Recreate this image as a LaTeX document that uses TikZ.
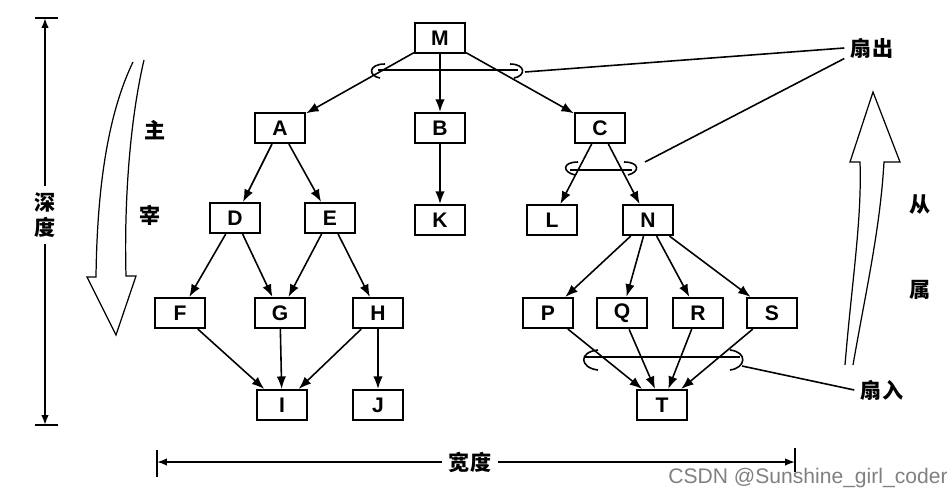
\documentclass[tikz,border=0pt]{standalone}
\usepackage{fontspec}
\setmainfont{Liberation Sans}
\newfontfamily\cjk{Noto Sans CJK SC}
\usetikzlibrary{arrows.meta}
\begin{document}
\begin{tikzpicture}[x=0.02cm, y=-0.02cm,
		line width = 0.9pt,
		module/.style={draw, line width=1.2pt, minimum width=1cm, minimum height=0.6cm, font=\bfseries\large},
		call/.style={-{Latex[length=2.5mm]}},
		word/.style={font=\cjk\bfseries\large}]
	\useasboundingbox (0,0) rectangle (947,497);

	% modules
	\node [module] (M) at (440,38) {M};
	\node [module] (A) at (280,128) {A};
	\node [module] (B) at (440,128) {B};
	\node [module] (C) at (600,128) {C};
	\node [module] (D) at (235,218) {D};
	\node [module] (E) at (330,218) {E};
	\node [module] (K) at (440,220) {K};
	\node [module] (L) at (552,220) {L};
	\node [module] (N) at (648,220) {N};
	\node [module] (F) at (180,313) {F};
	\node [module] (G) at (280,313) {G};
	\node [module] (H) at (378,313) {H};
	\node [module] (P) at (548,313) {P};
	\node [module] (Q) at (622,313) {Q};
	\node [module] (R) at (698,313) {R};
	\node [module] (S) at (772,313) {S};
	\node [module] (I) at (282,405) {I};
	\node [module] (J) at (378,405) {J};
	\node [module] (T) at (662,405) {T};

	% calls
	\foreach \a/\b in {M/A,M/B,M/C,A/D,A/E,B/K,C/L,C/N,D/F,D/G,E/G,E/H,F/I,G/I,H/I,H/J,N/P,N/Q,N/R,N/S,P/T,Q/T,R/T,S/T}
		\draw [call] (\a) -- (\b);

	% fan-out / fan-in marks
	\draw (378,70) -- (518,70);
	\draw (385,64) .. controls (368,64) and (368,76) .. (380,78);
	\draw (510,64) .. controls (526,64) and (526,76) .. (514,78);
	\draw (570,170) -- (632,170);
	\draw (578,162) .. controls (562,162) and (562,172) .. (575,175);
	\draw (624,162) .. controls (640,162) and (640,172) .. (628,175);
	\draw (585,357) -- (740,357);
	\draw (598,350) .. controls (578,352) and (580,368) .. (598,370);
	\draw (730,350) .. controls (748,352) and (746,368) .. (730,370);

	% labels
	\node [word] (fanout) at (872,48) {扇出};
	\node [word] (fanin) at (882,390) {扇入};
	\coordinate (fo1) at (525,72);
	\coordinate (fo2) at (645,162);
	\coordinate (fi1) at (742,366);
	\draw (fo1) -- (fanout.west);
	\draw (fo2) -- ([yshift=-6pt]fanout.west);
	\draw (fi1) -- (fanin.west);

	% depth
	\node [word, align=center] (depth) at (45,215) {深\\度};
	\coordinate (d1) at (45,18);
	\coordinate (d2) at (45,425);
	\draw (35,18) -- (58,18);
	\draw (35,425) -- (58,425);
	\draw [{Latex[length=2mm]}-] (d1) -- (depth.north);
	\draw [-{Latex[length=2mm]}] (depth.south) -- (d2);

	% width
	\node [word] (width) at (470,462) {宽度};
	\draw (157,450) -- (157,477);
	\draw (795,448) -- (795,472);
	\draw [{Latex[length=2mm]}-] (157,462) -- (width.west);
	\draw [-{Latex[length=2mm]}] (width.east) -- (795,462);

	% hollow arrows
	\draw [line width=0.7pt] (133,62) .. controls (105,120) and (97,200) .. (96,277)
		-- (87,277) -- (116,335) -- (136,276) -- (126,276)
		.. controls (124,200) and (130,120) .. (144,60);
	\node [word] at (155,130) {主};
	\node [word] at (150,215) {宰};
	\draw [line width=0.7pt] (845,365) .. controls (852,280) and (862,220) .. (860,162)
		-- (850,162) -- (873,92) -- (900,162) -- (884,162)
		.. controls (880,230) and (866,290) .. (853,365);
	\node [word] at (920,205) {从};
	\node [word] at (920,290) {属};

	\node [text=gray, font=\large] at (808,478) {CSDN @Sunshine\_girl\_coder};
\end{tikzpicture}
\end{document}
